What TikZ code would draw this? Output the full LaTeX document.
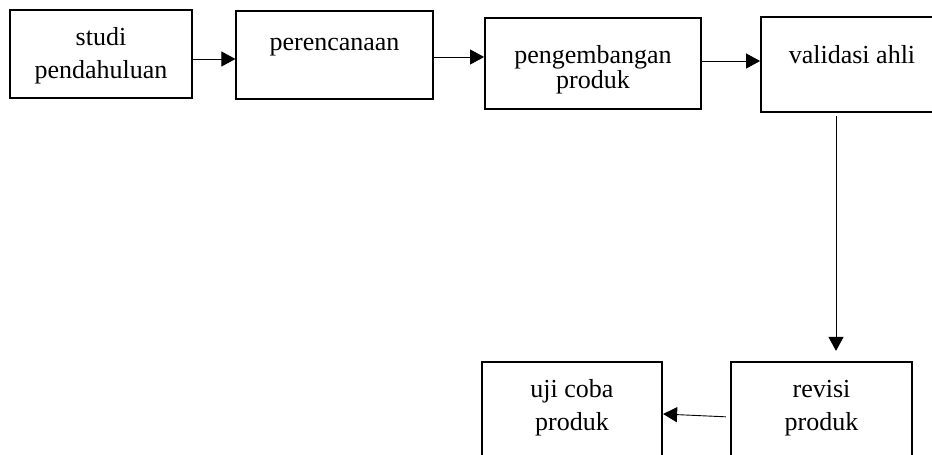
\documentclass[tikz,border=0pt]{standalone}
\usepackage{fontspec}
\setmainfont{Liberation Serif}
\usetikzlibrary{arrows.meta}
\begin{document}
\begin{tikzpicture}[x=1pt,y=-1pt,
  box/.style={draw=black, inner sep=0pt, rectangle},
  lbl/.style={anchor=base, align=center, inner sep=0pt, font=\fontsize{26}{33}\selectfont},
  arr/.style={draw=black, line width=0.9pt, -{Triangle[length=14pt,width=15pt]}}]
\useasboundingbox (0,0) rectangle (932,455);
\clip (0,0) rectangle (932,455);
\fill[white] (0,0) rectangle (932,455);
% boxes
\node[box, line width=2.4pt, minimum width=182pt, minimum height=88pt] (b1) at (101,54) {};
\node[box, line width=1.2pt, minimum width=197pt, minimum height=88pt] (b2) at (334.5,55) {};
\node[box, line width=1.8pt, minimum width=216pt, minimum height=91pt] (b3) at (593,63.5) {};
\node[box, line width=1.8pt, minimum width=182pt, minimum height=95pt] (b4) at (852,64.5) {};
\node[box, line width=2.2pt, minimum width=181pt, minimum height=108pt] (b5) at (821.5,416) {};
\node[box, line width=2.2pt, minimum width=180pt, minimum height=108pt] (b6) at (572,416) {};
% labels (anchor base = baseline of last line)
\node[lbl] (t1) at (101,78) {studi\\pendahuluan};
\node[lbl] (t2) at (334.5,50) {perencanaan};
\node[lbl, font=\fontsize{26}{25}\selectfont] (t3) at (593,88) {pengembangan\\produk};
\node[lbl] (t4) at (852,63) {validasi ahli};
\node[lbl] (t5) at (821.5,430) {revisi\\produk};
\node[lbl] (t6) at (572,430) {uji coba\\produk};
% connectors
\draw[arr] (b1.east |- 0,59) -- (b2.west |- 0,59);
\draw[arr] (b2.east |- 0,57) -- (b3.west |- 0,57);
\draw[arr] (b3.east |- 0,61) -- (b4.west |- 0,61);
\draw[arr, shorten <=3pt, shorten >=10pt] (b4.south -| 836,0) -- (b5.north -| 836,0);
\draw[arr, shorten <=4pt] (b5.west |- 0,417) -- (b6.east |- 0,414);
\end{tikzpicture}
\end{document}
